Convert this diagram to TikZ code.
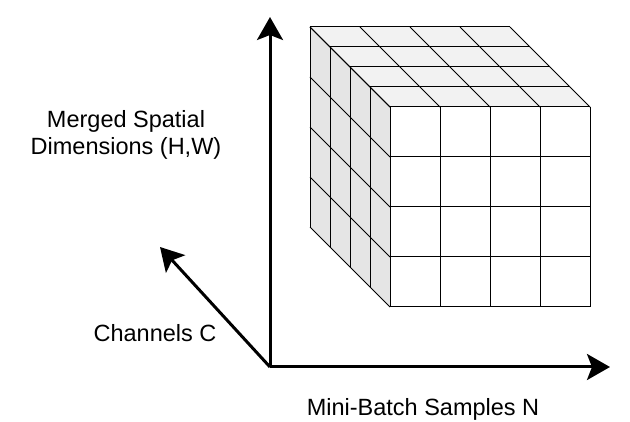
\documentclass[tikz,border=0pt]{standalone}
\usepackage{fontspec}
\setmainfont{Liberation Sans}
\usepackage{tikz}
\usetikzlibrary{arrows.meta}
\tikzset{>={Stealth[length=23pt,width=26pt,inset=5pt]}}
\tikzset{
  axis/.style={line width=3pt},
  cellline/.style={line width=1pt},
  axislabel/.style={anchor=base,inner sep=0pt,font=\fontsize{23.5}{27}\selectfont}
}

\begin{document}
\begin{tikzpicture}[x=1pt,y=-1pt]
            \useasboundingbox (0,0) rectangle (630,422);

            % Cube faces
            \fill [black!5] (390,107) -- (590,107) -- (510,27) -- (310,27) -- cycle;
            \fill [black!10] (390,107) -- (390,307) -- (310,227) -- (310,27) -- cycle;
            \fill [white] (390,107) rectangle (590,307);

            % Cube grid
            \foreach \i in {0,...,4} {
                \draw [cellline] (390+50*\i,107) -- (390+50*\i,307);
                \draw [cellline] (390,107+50*\i) -- (590,107+50*\i);
                \draw [cellline] (390+50*\i,107) -- (310+50*\i,27);
                \draw [cellline] (390,107+50*\i) -- (310,27+50*\i);
                \draw [cellline] (390-20*\i,107-20*\i) -- (590-20*\i,107-20*\i);
                \draw [cellline] (390-20*\i,107-20*\i) -- (390-20*\i,307-20*\i);
            }

            % Axes
            \coordinate (O) at (270,367);
            \coordinate (N) at (610,367);
            \coordinate (HW) at (270,17);
            \coordinate (C) at (160,247);
            \draw [->,axis] (O) -- (N);
            \draw [->,axis] (O) -- (HW);
            \draw [->,axis] (O) -- (C);

            \node [axislabel] (samples) at (423,416) {Mini-Batch Samples N};
            \node [axislabel] (channels) at (155,341.5) {Channels C};
            \node [axislabel,align=center] (spatial) at (126,155) {Merged Spatial\\Dimensions (H,W)};
        \end{tikzpicture}
\end{document}
